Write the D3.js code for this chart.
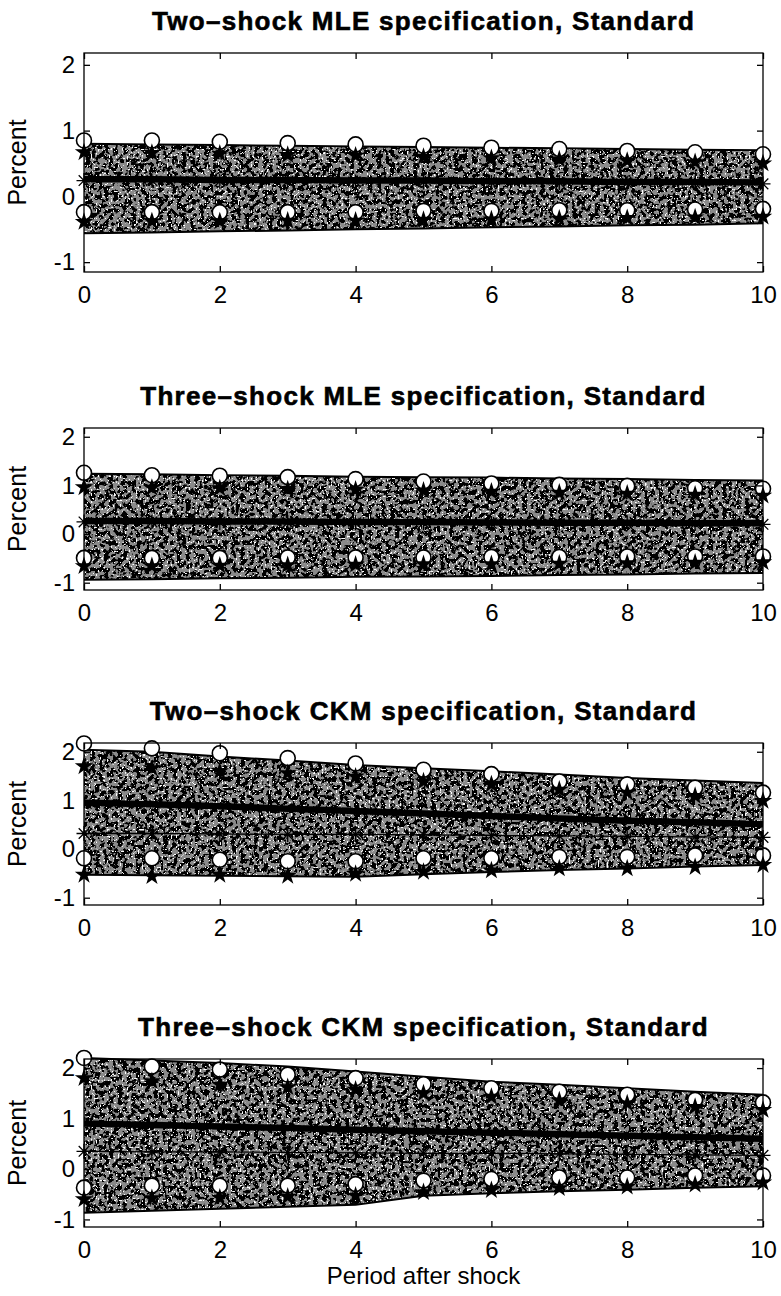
<!DOCTYPE html>
<html>
<head>
<meta charset="utf-8">
<script src="https://cdn.jsdelivr.net/npm/d3@7"></script>
<style>
  body { margin: 0; background: #fff; }
  svg { display: block; font-family: "Liberation Sans", Arial, Helvetica, sans-serif; }
</style>
</head>
<body>
<svg id="chart" width="781" height="1296"></svg>
<script>
// ---- data ---------------------------------------------------------------
const periods = [0, 1, 2, 3, 4, 5, 6, 7, 8, 9, 10];
const xTicks = [0, 2, 4, 6, 8, 10];
const yTicks = [-1, 0, 1, 2];
const yLimits = [-1.15, 2.18];

const panelTitles = [
  "Two–shock MLE specification, Standard",
  "Three–shock MLE specification, Standard",
  "Two–shock CKM specification, Standard",
  "Three–shock CKM specification, Standard"
];
const xAxisTitle = "Period after shock";
const yAxisTitle = "Percent";

// Two-shock MLE
const twoMleBandHigh = [0.80, 0.79, 0.78, 0.77, 0.76, 0.75, 0.74, 0.73, 0.72, 0.71, 0.70];
const twoMleBandLow  = [-0.56, -0.55, -0.53, -0.52, -0.50, -0.49, -0.47, -0.46, -0.44, -0.43, -0.41];
const twoMleMean     = [0.26, 0.26, 0.25, 0.25, 0.24, 0.24, 0.23, 0.23, 0.22, 0.22, 0.21];
const twoMleTrue     = [0.24, 0.24, 0.23, 0.23, 0.22, 0.22, 0.21, 0.21, 0.20, 0.20, 0.19];
const twoMleCircHigh = [0.85, 0.85, 0.83, 0.81, 0.79, 0.77, 0.74, 0.72, 0.69, 0.67, 0.64];
const twoMleStarHigh = [0.67, 0.66, 0.65, 0.63, 0.62, 0.60, 0.58, 0.56, 0.54, 0.52, 0.50];
const twoMleCircLow  = [-0.24, -0.24, -0.24, -0.24, -0.24, -0.22, -0.22, -0.21, -0.21, -0.20, -0.19];
const twoMleStarLow  = [-0.39, -0.38, -0.38, -0.37, -0.37, -0.36, -0.35, -0.34, -0.33, -0.32, -0.31];

// Three-shock MLE
const threeMleBandHigh = [1.24, 1.23, 1.21, 1.20, 1.18, 1.17, 1.16, 1.14, 1.13, 1.11, 1.10];
const threeMleBandLow  = [-0.94, -0.93, -0.91, -0.90, -0.88, -0.87, -0.86, -0.84, -0.83, -0.81, -0.80];
const threeMleMean     = [0.27, 0.27, 0.26, 0.26, 0.25, 0.25, 0.24, 0.23, 0.23, 0.22, 0.22];
const threeMleTrue     = [0.25, 0.25, 0.24, 0.24, 0.23, 0.23, 0.22, 0.22, 0.21, 0.21, 0.20];
const threeMleCircHigh = [1.26, 1.21, 1.20, 1.17, 1.13, 1.08, 1.04, 1.01, 0.99, 0.94, 0.93];
const threeMleStarHigh = [0.96, 0.95, 0.94, 0.92, 0.91, 0.89, 0.87, 0.85, 0.83, 0.81, 0.79];
const threeMleCircLow  = [-0.49, -0.49, -0.49, -0.48, -0.48, -0.48, -0.47, -0.47, -0.46, -0.46, -0.46];
const threeMleStarLow  = [-0.66, -0.66, -0.65, -0.64, -0.63, -0.62, -0.62, -0.61, -0.60, -0.59, -0.58];

// Two-shock CKM
const twoCkmBandHigh = [2.04, 2.00, 1.90, 1.82, 1.73, 1.66, 1.60, 1.53, 1.46, 1.41, 1.36];
const twoCkmBandLow  = [-0.53, -0.54, -0.55, -0.56, -0.57, -0.52, -0.47, -0.43, -0.40, -0.36, -0.33];
const twoCkmMean     = [0.95, 0.92, 0.88, 0.83, 0.78, 0.73, 0.68, 0.63, 0.58, 0.55, 0.51];
const twoCkmTrue     = [0.32, 0.32, 0.31, 0.30, 0.30, 0.29, 0.28, 0.27, 0.26, 0.25, 0.24];
const twoCkmCircHigh = [2.17, 2.07, 1.97, 1.87, 1.76, 1.63, 1.54, 1.39, 1.33, 1.26, 1.16];
const twoCkmStarHigh = [1.70, 1.66, 1.60, 1.56, 1.49, 1.39, 1.33, 1.22, 1.16, 1.09, 0.99];
const twoCkmCircLow  = [-0.19, -0.19, -0.22, -0.25, -0.25, -0.19, -0.19, -0.16, -0.16, -0.13, -0.13];
const twoCkmStarLow  = [-0.53, -0.56, -0.53, -0.55, -0.51, -0.47, -0.44, -0.40, -0.40, -0.37, -0.33];

// Three-shock CKM
const threeCkmBandHigh = [2.20, 2.15, 2.10, 2.03, 1.93, 1.83, 1.73, 1.67, 1.60, 1.53, 1.47];
const threeCkmBandLow  = [-0.87, -0.83, -0.79, -0.75, -0.71, -0.53, -0.48, -0.44, -0.41, -0.37, -0.34];
const threeCkmMean     = [0.90, 0.87, 0.84, 0.81, 0.78, 0.75, 0.72, 0.69, 0.66, 0.63, 0.60];
const threeCkmTrue     = [0.35, 0.34, 0.34, 0.33, 0.32, 0.31, 0.31, 0.30, 0.29, 0.28, 0.27];
const threeCkmCircHigh = [2.20, 2.03, 1.97, 1.87, 1.80, 1.68, 1.60, 1.53, 1.47, 1.37, 1.32];
const threeCkmStarHigh = [1.80, 1.74, 1.67, 1.62, 1.57, 1.50, 1.43, 1.36, 1.30, 1.23, 1.17];
const threeCkmCircLow  = [-0.37, -0.33, -0.33, -0.33, -0.30, -0.23, -0.20, -0.17, -0.17, -0.13, -0.13];
const threeCkmStarLow  = [-0.60, -0.58, -0.57, -0.55, -0.53, -0.46, -0.42, -0.38, -0.35, -0.31, -0.27];

// ---- layout -------------------------------------------------------------
const plotLeft = 84, plotRight = 763;
const panelBoxes = [
  { top: 53,   bottom: 272 },
  { top: 428,  bottom: 590 },
  { top: 743,  bottom: 905 },
  { top: 1059, bottom: 1227 }
];

const panels = [
  { title: panelTitles[0], hi: twoMleBandHigh, lo: twoMleBandLow, mean: twoMleMean, truth: twoMleTrue,
    circHi: twoMleCircHigh, starHi: twoMleStarHigh, circLo: twoMleCircLow, starLo: twoMleStarLow },
  { title: panelTitles[1], hi: threeMleBandHigh, lo: threeMleBandLow, mean: threeMleMean, truth: threeMleTrue,
    circHi: threeMleCircHigh, starHi: threeMleStarHigh, circLo: threeMleCircLow, starLo: threeMleStarLow },
  { title: panelTitles[2], hi: twoCkmBandHigh, lo: twoCkmBandLow, mean: twoCkmMean, truth: twoCkmTrue,
    circHi: twoCkmCircHigh, starHi: twoCkmStarHigh, circLo: twoCkmCircLow, starLo: twoCkmStarLow },
  { title: panelTitles[3], hi: threeCkmBandHigh, lo: threeCkmBandLow, mean: threeCkmMean, truth: threeCkmTrue,
    circHi: threeCkmCircHigh, starHi: threeCkmStarHigh, circLo: threeCkmCircLow, starLo: threeCkmStarLow }
];

const svg = d3.select("#chart");

// Mottled grey texture for the confidence band: grey base, dark blobs, light specks
const defs = svg.append("defs");
const grain = defs.append("filter")
  .attr("id", "grain")
  .attr("filterUnits", "userSpaceOnUse")
  .attr("x", 0).attr("y", 0).attr("width", 781).attr("height", 1296)
  .attr("color-interpolation-filters", "sRGB");
grain.append("feFlood").attr("flood-color", "#8a8a8a").attr("result", "base");
grain.append("feTurbulence")
  .attr("type", "fractalNoise").attr("baseFrequency", 0.22)
  .attr("numOctaves", 2).attr("seed", 4).attr("result", "n1");
grain.append("feColorMatrix")
  .attr("in", "n1").attr("type", "matrix")
  .attr("values", "0 0 0 0 0  0 0 0 0 0  0 0 0 0 0  -18 0 0 0 9.4")
  .attr("result", "dark");
grain.append("feTurbulence")
  .attr("type", "fractalNoise").attr("baseFrequency", 0.55)
  .attr("numOctaves", 1).attr("seed", 9).attr("result", "n2");
grain.append("feColorMatrix")
  .attr("in", "n2").attr("type", "matrix")
  .attr("values", "0 0 0 0 1  0 0 0 0 1  0 0 0 0 1  18 0 0 0 -11.2")
  .attr("result", "light");
const merge = grain.append("feMerge").attr("result", "tex");
["base", "dark", "light"].forEach(n => merge.append("feMergeNode").attr("in", n));
grain.append("feComposite").attr("in", "tex").attr("in2", "SourceGraphic").attr("operator", "in");

const x = d3.scaleLinear().domain([0, 10]).range([plotLeft, plotRight]);

const asteriskPath = r => {
  const d = r * Math.SQRT1_2;
  return `M${-r},0L${r},0M0,${-r}L0,${r}M${-d},${-d}L${d},${d}M${-d},${d}L${d},${-d}`;
};
const starPath = d3.symbol().type(d3.symbolStar).size(105)();

panels.forEach((p, i) => {
  const box = panelBoxes[i];
  const y = d3.scaleLinear().domain(yLimits).range([box.bottom, box.top]);
  const g = svg.append("g").attr("class", "panel");

  const rows = periods.map((t, k) => ({
    t, hi: p.hi[k], lo: p.lo[k], mean: p.mean[k], truth: p.truth[k],
    circHi: p.circHi[k], starHi: p.starHi[k], circLo: p.circLo[k], starLo: p.starLo[k]
  }));

  // shaded band
  const area = d3.area().x(d => x(d.t)).y0(d => y(d.lo)).y1(d => y(d.hi));
  g.append("path").datum(rows).attr("d", area)
    .attr("fill", "#000").attr("filter", "url(#grain)");
  // band edges
  ["hi", "lo"].forEach(key => {
    g.append("path").datum(rows)
      .attr("d", d3.line().x(d => x(d.t)).y(d => y(d[key])))
      .attr("fill", "none").attr("stroke", "#000").attr("stroke-width", 2);
  });

  // thin line with asterisks
  g.append("path").datum(rows)
    .attr("d", d3.line().x(d => x(d.t)).y(d => y(d.truth)))
    .attr("fill", "none").attr("stroke", "#000").attr("stroke-width", 1.3);
  g.selectAll(".ast").data(rows).join("path").attr("class", "ast")
    .attr("transform", d => `translate(${x(d.t)},${y(d.truth)})`)
    .attr("d", asteriskPath(7.5))
    .attr("fill", "none").attr("stroke", "#000").attr("stroke-width", 1.3);

  // thick central line
  g.append("path").datum(rows)
    .attr("d", d3.line().x(d => x(d.t)).y(d => y(d.mean)))
    .attr("fill", "none").attr("stroke", "#000").attr("stroke-width", 6.5);

  // open circles
  ["circHi", "circLo"].forEach(key => {
    g.selectAll(".c-" + key).data(rows).join("circle").attr("class", "c-" + key)
      .attr("cx", d => x(d.t)).attr("cy", d => y(d[key])).attr("r", 7.5)
      .attr("fill", "#fff").attr("stroke", "#000").attr("stroke-width", 1.6);
  });
  // filled stars
  ["starHi", "starLo"].forEach(key => {
    g.selectAll(".s-" + key).data(rows).join("path").attr("class", "s-" + key)
      .attr("transform", d => `translate(${x(d.t)},${y(d[key])})`)
      .attr("d", starPath).attr("fill", "#000");
  });

  // axes box with inward ticks
  g.append("rect")
    .attr("x", plotLeft).attr("y", box.top)
    .attr("width", plotRight - plotLeft).attr("height", box.bottom - box.top)
    .attr("fill", "none").attr("stroke", "#000").attr("stroke-width", 1.3);

  const fmt = d => String(d);
  const axB = g.append("g").attr("transform", `translate(0,${box.bottom})`)
    .call(d3.axisBottom(x).tickValues(xTicks).tickSize(-6).tickSizeOuter(0).tickPadding(14).tickFormat(fmt));
  const axT = g.append("g").attr("transform", `translate(0,${box.top})`)
    .call(d3.axisTop(x).tickValues(xTicks).tickSize(-6).tickSizeOuter(0).tickFormat(""));
  const axL = g.append("g").attr("transform", `translate(${plotLeft},0)`)
    .call(d3.axisLeft(y).tickValues(yTicks).tickSize(-6).tickSizeOuter(0).tickPadding(9).tickFormat(fmt));
  const axR = g.append("g").attr("transform", `translate(${plotRight},0)`)
    .call(d3.axisRight(y).tickValues(yTicks).tickSize(-6).tickSizeOuter(0).tickFormat(""));
  [axB, axT, axL, axR].forEach(a => {
    a.select(".domain").remove();
    a.selectAll("line").attr("stroke", "#000").attr("stroke-width", 1.3);
    a.selectAll("text").attr("fill", "#000").attr("font-size", 24)
      .attr("font-family", "'Liberation Sans', Arial, Helvetica, sans-serif");
  });

  // title
  g.append("text")
    .attr("x", (plotLeft + plotRight) / 2).attr("y", box.top - 23)
    .attr("text-anchor", "middle").attr("font-size", 26).attr("font-weight", "bold")
    .attr("letter-spacing", 1.3)
    .attr("stroke", "#000").attr("stroke-width", 0.6)
    .attr("fill", "#000").text(p.title);

  // y label
  g.append("text")
    .attr("transform", `translate(26,${(box.top + box.bottom) / 2}) rotate(-90)`)
    .attr("text-anchor", "middle").attr("font-size", 25).attr("fill", "#000")
    .text(yAxisTitle);
});

// x label (bottom panel only)
svg.append("text")
  .attr("x", (plotLeft + plotRight) / 2).attr("y", 1284)
  .attr("text-anchor", "middle").attr("font-size", 24).attr("fill", "#000")
  .text(xAxisTitle);
</script>
</body>
</html>
